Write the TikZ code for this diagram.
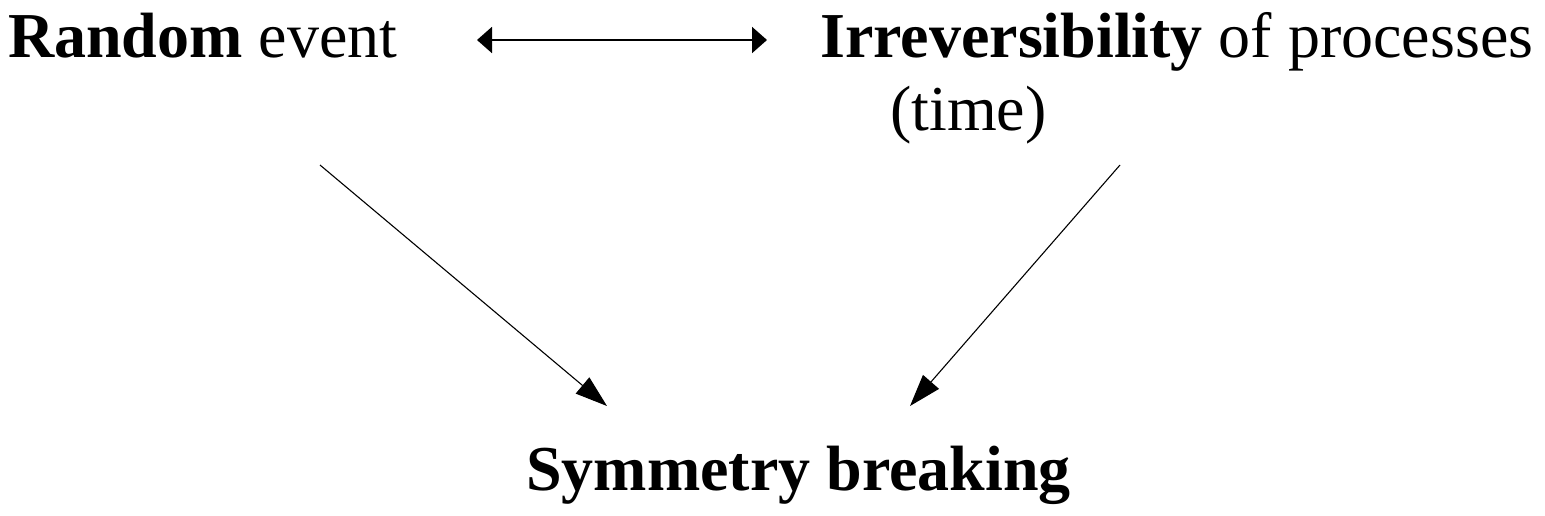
\documentclass[tikz,border=0pt]{standalone}
\usepackage{fontspec}
\setmainfont{Liberation Serif}
\usetikzlibrary{arrows.meta}
\tikzset{
  lbl/.style={anchor=base west, inner sep=0pt, font=\fontsize{64}{70}\selectfont},
  biarrow/.style={{Triangle[length=15pt,width=26pt]}-{Triangle[length=15pt,width=26pt]}, line width=2pt},
  diag/.style={-{Triangle[length=32pt,width=21pt]}, line width=1.1pt},
}
\begin{document}
\begin{tikzpicture}[x=1pt,y=-1pt]
\useasboundingbox (0,0) rectangle (1545,515);
\node[lbl] (rand) at (8,57) {\textbf{Random} event};
\node[lbl] (irr) at (820,57) {\textbf{Irreversibility} of processes};
\node[lbl] (time) at (890,130) {(time)};
\node[lbl] (sym) at (526,490) {\textbf{Symmetry breaking}};
\coordinate (h1) at (477,40);
\coordinate (h2) at (767,40);
\coordinate (d1s) at (320,165);
\coordinate (d1e) at (607,406);
\coordinate (d2s) at (1120,165);
\coordinate (d2e) at (910,406);
\draw[biarrow] (h1) -- (h2);
\draw[diag] (d1s) -- (d1e);
\draw[diag] (d2s) -- (d2e);
\end{tikzpicture}
\end{document}
